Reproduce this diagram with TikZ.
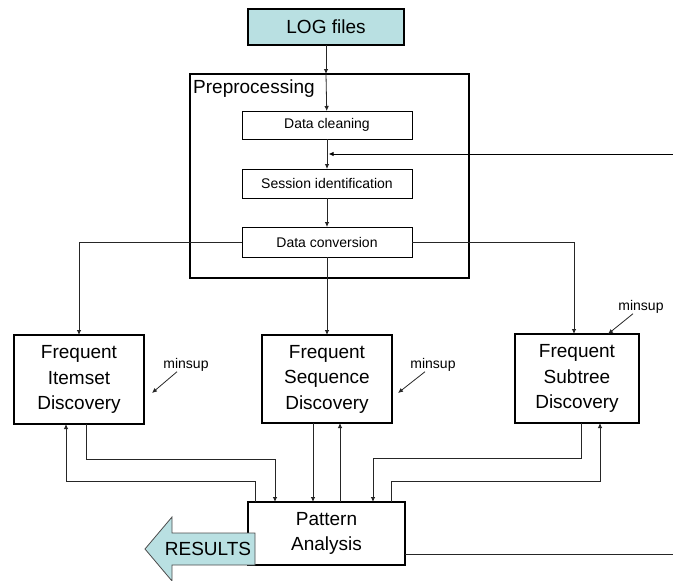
\documentclass[tikz,border=0pt]{standalone}
\usepackage{fontspec}
\setmainfont{Liberation Sans}
\usetikzlibrary{arrows.meta}
\definecolor{logcyan}{RGB}{185,224,226}
\tikzset{
  stepbox/.style={draw, line width=0.9pt, inner sep=0pt, outer sep=0pt,
    minimum width=170pt, font=\fontsize{14}{17}\selectfont},
  minebox/.style={draw, line width=1.3pt, inner sep=0pt, outer sep=0pt,
    align=center, font=\fontsize{19}{25.5}\selectfont},
  link/.style={draw=black!85, line width=0.8pt, ->},
  minsuplabel/.style={inner sep=0pt, font=\fontsize{14}{16}\selectfont}
}
\begin{document}
\begin{tikzpicture}[x=1pt, y=-1pt, >={Latex[length=5pt,width=4.5pt]}]
    \useasboundingbox (0,0) rectangle (673,581);
    % input and preprocessing
    \node[draw, line width=1.3pt, fill=logcyan, minimum width=156pt, minimum height=36pt,
          inner sep=0pt, outer sep=0pt, font=\fontsize{19}{22}\selectfont] (logfiles) at (326,27) {LOG files};
    \node[draw, line width=1.3pt, minimum width=279pt, minimum height=204pt,
          inner sep=0pt, outer sep=0pt] (prep) at (329.5,176) {};
    \node[anchor=base west, inner sep=0pt, font=\fontsize{19}{22}\selectfont] (preplabel) at (193,93) {Preprocessing};
    \node[stepbox, minimum height=28pt] (clean) at (327,125) {Data cleaning};
    \node[stepbox, minimum height=29pt] (session) at (327,183.5) {Session identification};
    \node[stepbox, minimum height=30pt] (conv) at (327,242) {Data conversion};
    % mining
    \node[minebox, minimum width=130pt, minimum height=89pt] (itemset) at (79,379.5) {Frequent\\Itemset\\Discovery};
    \node[minebox, minimum width=130pt, minimum height=88pt] (sequence) at (327,379) {Frequent\\Sequence\\Discovery};
    \node[minebox, minimum width=124pt, minimum height=89pt] (subtree) at (577,378.5) {Frequent\\Subtree\\Discovery};
    \node[minebox, minimum width=157pt, minimum height=63pt] (pattern) at (326.5,533.5) {Pattern\\Analysis};
    % minsup
    \node[minsuplabel] (ms1) at (186,365) {minsup};
    \node[minsuplabel] (ms2) at (433,365) {minsup};
    \node[minsuplabel] (ms3) at (641,307) {minsup};
    \coordinate (ms1tip) at (152,393);
    \coordinate (ms2tip) at (398,393);
    \coordinate (ms3tip) at (608,334);
    \draw[link] ([xshift=-9pt]ms1.south) -- (ms1tip);
    \draw[link] ([xshift=-8pt]ms2.south) -- (ms2tip);
    \draw[link] ([xshift=-8pt]ms3.south) -- (ms3tip);
    % flow
    \draw[link] (logfiles.south) -- (logfiles.south |- prep.north);
    \draw[link] (logfiles.south |- prep.north) -- (clean);
    \draw[link] (clean) -- (session);
    \draw[link] (session) -- (conv);
    \coordinate (fb) at (673,154);
    \draw[link, draw=black, line width=1pt] (fb) -- ([xshift=1.5pt]fb -| clean.south);
    \draw[link] (conv.west) -| (itemset.north);
    \draw[link] (conv) -- (sequence);
    \draw[link] (conv.east) -| ([xshift=-3pt]subtree.north);
    % results of mining
    \draw[link] ([xshift=7pt]itemset.south) |- ++(0,35) -| ([xshift=-51.5pt]pattern.north);
    \draw[link] ([xshift=-71.5pt]pattern.north) |- ++(0,-21) -| ([xshift=-13pt]itemset.south);
    \draw[link] ([xshift=-14pt]sequence.south) -- ([xshift=-14pt]sequence.south |- pattern.north);
    \draw[link] ([xshift=13.5pt]pattern.north) -- ([xshift=13.5pt]pattern.north |- sequence.south);
    \draw[link] ([xshift=4pt]subtree.south) |- ++(0,35) -| ([xshift=46.5pt]pattern.north);
    \draw[link] ([xshift=64.5pt]pattern.north) |- ++(0,-21) -| ([xshift=23pt]subtree.south);
    \coordinate (out) at (673,554);
    \draw[draw=black!85, line width=0.8pt] (pattern.east |- out) -- (out);
    % output
    \filldraw[fill=logcyan, draw=black!70, line width=0.8pt]
        (145,549) -- (172,517) -- (172,533) -- (255,533) -- (255,565) -- (172,565) -- (172,581) -- cycle;
    \node[inner sep=0pt, font=\fontsize{19}{22}\selectfont] (results) at (208,549) {RESULTS};
\end{tikzpicture}
\end{document}
